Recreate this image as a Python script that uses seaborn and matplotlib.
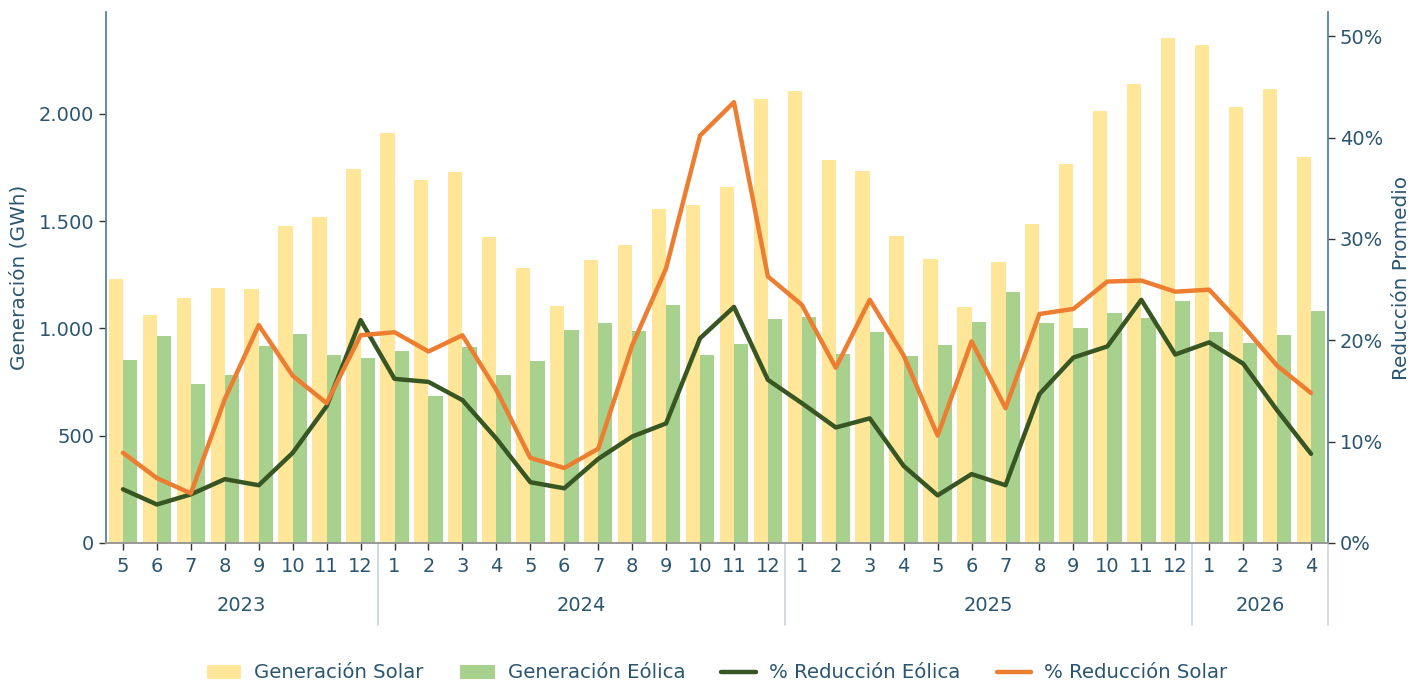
import matplotlib
matplotlib.use("Agg")
import matplotlib.pyplot as plt
import matplotlib.transforms as mtransforms
from matplotlib.patches import Patch
from matplotlib.lines import Line2D
from matplotlib.ticker import FuncFormatter
import seaborn as sns
import pandas as pd
import numpy as np

# ---- data ----
periods = ["2023-05", "2023-06", "2023-07", "2023-08", "2023-09", "2023-10", "2023-11", "2023-12",
           "2024-01", "2024-02", "2024-03", "2024-04", "2024-05", "2024-06", "2024-07", "2024-08",
           "2024-09", "2024-10", "2024-11", "2024-12",
           "2025-01", "2025-02", "2025-03", "2025-04", "2025-05", "2025-06", "2025-07", "2025-08",
           "2025-09", "2025-10", "2025-11", "2025-12",
           "2026-01", "2026-02", "2026-03", "2026-04"]
month_labels = ["5", "6", "7", "8", "9", "10", "11", "12",
                "1", "2", "3", "4", "5", "6", "7", "8", "9", "10", "11", "12",
                "1", "2", "3", "4", "5", "6", "7", "8", "9", "10", "11", "12",
                "1", "2", "3", "4"]
years = ["2023", "2024", "2025", "2026"]
year_months = [8, 12, 12, 4]

gen_solar = [1230, 1065, 1143, 1190, 1183, 1477, 1518, 1742,
             1912, 1692, 1728, 1427, 1280, 1103, 1320, 1390, 1558, 1575, 1658, 2068,
             2105, 1787, 1735, 1433, 1325, 1098, 1310, 1487, 1765, 2015, 2140, 2353,
             2322, 2030, 2118, 1798]
gen_eolica = [855, 967, 743, 782, 917, 973, 875, 863,
              897, 687, 912, 782, 848, 992, 1025, 988, 1107, 878, 928, 1043,
              1053, 880, 982, 870, 925, 1030, 1170, 1025, 1002, 1073, 1050, 1127,
              983, 933, 970, 1082]
red_eolica = [5.3, 3.8, 4.8, 6.3, 5.7, 8.9, 13.5, 22.0,
              16.2, 15.9, 14.1, 10.3, 6.0, 5.4, 8.3, 10.5, 11.8, 20.2, 23.3, 16.1,
              13.8, 11.4, 12.3, 7.6, 4.7, 6.8, 5.7, 14.7, 18.3, 19.4, 24.0, 18.6,
              19.8, 17.7, 13.1, 8.8]
red_solar = [8.9, 6.4, 4.9, 14.2, 21.5, 16.5, 13.8, 20.5,
             20.8, 18.9, 20.5, 15.1, 8.4, 7.4, 9.3, 19.5, 27.1, 40.2, 43.5, 26.3,
             23.5, 17.3, 24.0, 18.5, 10.6, 19.9, 13.3, 22.6, 23.1, 25.8, 25.9, 24.8,
             25.0, 21.4, 17.5, 14.8]

series_names = ["Generación Solar", "Generación Eólica", "% Reducción Eólica", "% Reducción Solar"]
c_solar = "#FFE699"
c_eolica = "#A9D18E"
c_l_eol = "#375623"
c_l_sol = "#ED7D31"
txt = "#2B5671"
spine_c = "#4F7D99"

bars = pd.DataFrame({
    "periodo": periods * 2,
    "valor": gen_solar + gen_eolica,
    "serie": [series_names[0]] * len(periods) + [series_names[1]] * len(periods),
})
lines = pd.DataFrame({
    "pos": list(range(len(periods))) * 2,
    "valor": red_eolica + red_solar,
    "serie": [series_names[2]] * len(periods) + [series_names[3]] * len(periods),
})

sns.set_theme(style="white")
plt.rcParams["font.family"] = ["DejaVu Sans"]

fig = plt.figure(figsize=(14.11, 6.84), dpi=100)
ax = fig.add_axes([106 / 1411, 1 - 543 / 684, (1328 - 106) / 1411, (543 - 12) / 684])

sns.barplot(data=bars, x="periodo", y="valor", hue="serie", order=periods,
            hue_order=series_names[:2], palette=[c_solar, c_eolica],
            width=0.84, saturation=1, ax=ax, legend=False, errorbar=None, linewidth=0)

ax2 = ax.twinx()
sns.lineplot(data=lines, x="pos", y="valor", hue="serie", hue_order=series_names[2:],
             palette=[c_l_eol, c_l_sol], linewidth=3.2, ax=ax2, legend=False)

ax.set_xlim(-0.5, len(periods) - 0.5)
ax.set_ylim(0, 2475)
ax2.set_ylim(0, 52.4)
ax.set_xticks(range(len(periods)))
ax.set_xticklabels(month_labels)
ax.set_yticks([0, 500, 1000, 1500, 2000])
ax.yaxis.set_major_formatter(FuncFormatter(lambda v, p: f"{int(v):,}".replace(",", ".")))
ax2.set_yticks([0, 10, 20, 30, 40, 50])
ax2.yaxis.set_major_formatter(FuncFormatter(lambda v, p: f"{int(v)}%"))

ax.set_xlabel("")
ax.set_ylabel("Generación (GWh)", color=txt, fontsize=14.4, labelpad=7)
ax2.set_ylabel("Reducción Promedio", color=txt, fontsize=14.4, labelpad=6)
ax2.set_xlabel("")

for a in (ax, ax2):
    a.spines["top"].set_visible(False)
    a.spines["left"].set_color(spine_c)
    a.spines["right"].set_color(spine_c)
    a.spines["bottom"].set_color("#999999")
    a.tick_params(axis="both", colors="#333333", labelcolor=txt, labelsize=14, length=5, width=1)
ax.spines["right"].set_visible(False)
ax2.spines["left"].set_visible(False)
ax.tick_params(axis="y", left=True)
ax2.tick_params(axis="y", right=True)
ax.tick_params(axis="x", bottom=True, pad=5)

# year group labels and separators
trans = mtransforms.blended_transform_factory(ax.transData, ax.transAxes)
start = 0
for y, n in zip(years, year_months):
    center = start + (n - 1) / 2
    ax.text(center, -0.117, y, transform=trans, ha="center", va="center",
            color=txt, fontsize=14)
    end = start + n - 0.5
    ax.plot([end, end], [0, -0.155], transform=trans, color="#C9D5DA",
            linewidth=1.2, clip_on=False)
    start += n

handles = [Patch(facecolor=c_solar, edgecolor="none"),
           Patch(facecolor=c_eolica, edgecolor="none"),
           Line2D([0], [0], color=c_l_eol, linewidth=3.2),
           Line2D([0], [0], color=c_l_sol, linewidth=3.2)]
leg = fig.legend(handles, series_names, loc="center", bbox_to_anchor=(717 / 1411, 1 - 673 / 684),
                 ncol=4, frameon=False, fontsize=14.2, handlelength=1.75,
                 columnspacing=1.85, handletextpad=0.65)
for t in leg.get_texts():
    t.set_color(txt)

fig.savefig("out.png", dpi=100)
